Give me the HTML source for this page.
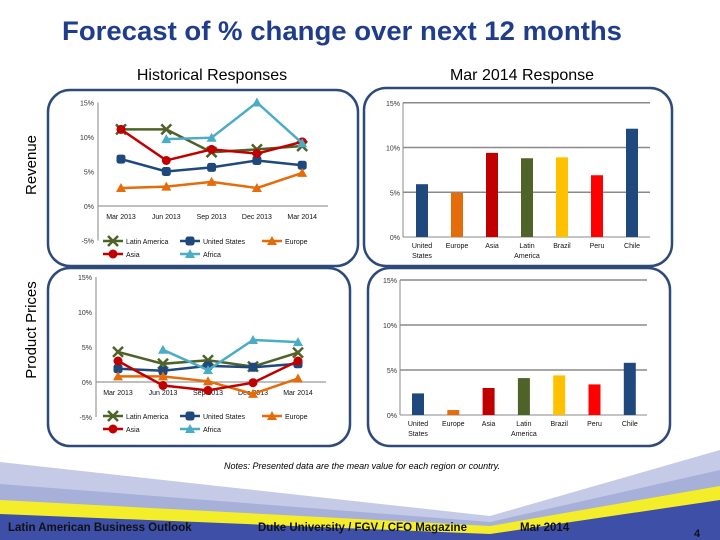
<!DOCTYPE html>
<html><head><meta charset="utf-8">
<style>
body{margin:0;background:#fff;}
svg{display:block;font-family:"Liberation Sans",sans-serif;}
</style></head>
<body>
<svg id="root" width="720" height="540" viewBox="0 0 720 540" xmlns="http://www.w3.org/2000/svg">
  <g>
    <polygon points="0,462 490,516 720,450 720,540 0,540" fill="#C5CAE6"/>
    <polygon points="0,484 490,522 720,470 720,540 0,540" fill="#A7B0D8"/>
    <polygon points="0,500 490,526 720,486 720,540 0,540" fill="#F4EE2A"/>
    <polygon points="0,514 490,534 720,500 720,540 0,540" fill="#3E4FA8"/>
  </g>
  <text x="342" y="40" text-anchor="middle" font-size="27" font-weight="bold" fill="#1F3D8A" textLength="560" lengthAdjust="spacingAndGlyphs">Forecast of % change over next 12 months</text>
  <text x="212" y="80" text-anchor="middle" font-size="16" fill="#000">Historical Responses</text>
  <text x="522" y="80" text-anchor="middle" font-size="16" fill="#000">Mar 2014 Response</text>
  <text transform="translate(36,165) rotate(-90)" text-anchor="middle" font-size="15">Revenue</text>
  <text transform="translate(36,330) rotate(-90)" text-anchor="middle" font-size="15">Product Prices</text>

  <rect x="48" y="90" width="310" height="176" rx="22" fill="none" stroke="#2E4A7A" stroke-width="2.5"/>
  <rect x="48" y="268" width="302" height="178" rx="22" fill="none" stroke="#2E4A7A" stroke-width="2.5"/>
  <rect x="364" y="88" width="308" height="178" rx="22" fill="none" stroke="#2E4A7A" stroke-width="2.5"/>
  <rect x="368" y="268" width="302" height="178" rx="22" fill="none" stroke="#2E4A7A" stroke-width="2.5"/>
  <g id="charts"></g>

  <text x="362" y="469" text-anchor="middle" font-size="9" font-style="italic" fill="#000">Notes: Presented data are the mean value for each region or country.</text>
  <text x="8" y="531" font-size="11.5" font-weight="bold" fill="#111">Latin American Business Outlook</text>
  <text x="258" y="531" font-size="11.5" font-weight="bold" fill="#111">Duke University / FGV / CFO Magazine</text>
  <text x="520" y="531" font-size="11.5" font-weight="bold" fill="#111">Mar 2014</text>
  <text x="694" y="537" font-size="11" font-weight="bold" fill="#111">4</text>
</svg>
<script>
const quarters = ["Mar 2013","Jun 2013","Sep 2013","Dec 2013","Mar 2014"];
const seriesNames = ["Latin America","United States","Europe","Asia","Africa"];
const revLatAm = [11.1,11.1,7.8,8.2,8.7];
const revUS = [6.8,5.0,5.6,6.6,5.9];
const revEurope = [2.6,2.8,3.5,2.6,4.8];
const revAsia = [11.1,6.6,8.2,7.6,9.3];
const revAfrica = [null,9.7,9.9,15.0,9.1];
const priceLatAm = [4.3,2.6,3.1,2.2,4.2];
const priceUS = [1.9,1.6,2.3,2.1,2.6];
const priceEurope = [0.8,0.8,0.1,-1.7,0.5];
const priceAsia = [3.0,-0.5,-1.2,-0.1,3.0];
const priceAfrica = [null,4.6,1.7,6.0,5.7];
const lineTicks = [-5,0,5,10,15];
const barCategories = ["United States","Europe","Asia","Latin America","Brazil","Peru","Chile"];
const revBars = [5.9,4.95,9.4,8.8,8.9,6.9,12.1];
const priceBars = [2.4,0.55,3.0,4.1,4.4,3.4,5.8];
const barTicks = [0,5,10,15];

const NS="http://www.w3.org/2000/svg";
const root=document.getElementById('charts');
function mk(tag,attrs,parent){const e=document.createElementNS(NS,tag);for(const k in attrs)e.setAttribute(k,attrs[k]);(parent||root).appendChild(e);return e;}
const lineColors=["#4F6228","#1F497D","#E46C0A","#C00000","#4BACC6"];
const markers=["x","square","triangle","circle","triangle"];

function marker(g,type,x,y,c){
  let m;
  if(type==="x"){m=mk('path',{d:`M${x-5},${y-5}L${x+5},${y+5}M${x-5},${y+5}L${x+5},${y-5}`,stroke:c,'stroke-width':2.5},g);}
  else if(type==="square"){m=mk('rect',{x:x-4.5,y:y-4.5,width:9,height:9,rx:2.5,fill:c},g);}
  else if(type==="triangle"){m=mk('polygon',{points:`${x},${y-5} ${x+5},${y+4} ${x-5},${y+4}`,fill:c},g);}
  else {m=mk('circle',{cx:x,cy:y,r:4.5,fill:c},g);}
  return m;
}

function lineChart(name,series,o){
  const g=mk('g',{});
  
  
  const ys=v=>o.y0-v*o.pp;
  const xs=i=>o.x0+i*o.dx;
  mk('line',{x1:o.ax,y1:ys(15),x2:o.ax,y2:ys(-5),stroke:'#999','stroke-width':1.2},g);
  mk('line',{x1:o.ax,y1:o.y0,x2:o.ax+230,y2:o.y0,stroke:'#999','stroke-width':1.2},g);
  lineTicks.forEach(t=>{
    const tx=mk('text',{x:o.ax-4,y:ys(t)+3,'text-anchor':'end','font-size':7,fill:'#333'},g);
    tx.textContent=t+'%';
    
    
  });
  quarters.forEach((q,i)=>{
    const tx=mk('text',{x:xs(i),y:o.y0+13,'text-anchor':'middle','font-size':7,fill:'#111'},g);
    tx.textContent=q;
    
    
  });
  series.forEach((vals,s)=>{
    const c=lineColors[s];
    let d='';vals.forEach((v,i)=>{if(v===null)return;d+=(d?'L':'M')+xs(i)+','+ys(v);});
    const p=mk('path',{d:d,fill:'none',stroke:c,'stroke-width':2.5},g);
    
    
    vals.forEach((v,i)=>{if(v===null)return;const m=marker(g,markers[s],xs(i),ys(v),c);
      
      });
  });
  const lx=[103,180,262,103,180], ly=[o.leg,o.leg,o.leg,o.leg+13,o.leg+13];
  seriesNames.forEach((n,s)=>{
    const c=lineColors[s];
    const lg=mk('g',{},g);
    
    
    mk('line',{x1:lx[s],y1:ly[s],x2:lx[s]+20,y2:ly[s],stroke:c,'stroke-width':2.5},lg);
    marker(lg,markers[s],lx[s]+10,ly[s],c);
    const t=mk('text',{x:lx[s]+23,y:ly[s]+3,'font-size':7,fill:'#111'},lg);
    t.textContent=n;
  });
}

function barChart(name,vals,o){
  const g=mk('g',{});
  
  
  const ys=v=>o.y0-v*o.pp;
  barTicks.forEach(t=>{
    mk('line',{x1:o.ax,y1:ys(t),x2:o.ax2,y2:ys(t),stroke:'#8a8a8a','stroke-width':t===0?1:1.5},g);
    const tx=mk('text',{x:o.ax-3,y:ys(t)+3,'text-anchor':'end','font-size':7,fill:'#333'},g);
    tx.textContent=t+'%';
    
    
  });
  mk('line',{x1:o.ax,y1:ys(15),x2:o.ax,y2:o.y0,stroke:'#8a8a8a','stroke-width':1},g);
  const colors=["#1F497D","#E46C0A","#C00000","#4F6228","#FFC000","#FF0000","#1F497D"];
  barCategories.forEach((c,i)=>{
    const cx=o.x0+i*o.dx;
    const r=mk('rect',{x:cx-6,y:ys(vals[i]),width:12,height:vals[i]*o.pp,fill:colors[i]},g);
    
    
    const parts=c.split(' ');
    parts.forEach((p,k)=>{
      const t=mk('text',{x:cx,y:o.y0+11+k*10,'text-anchor':'middle','font-size':7,fill:'#111'},g);
      t.textContent=p;
      
      
    });
  });
}

lineChart('revenue-history-chart',[revLatAm,revUS,revEurope,revAsia,revAfrica],{ax:98,y0:206,pp:6.9,x0:121,dx:45.3,leg:241});
lineChart('prices-history-chart',[priceLatAm,priceUS,priceEurope,priceAsia,priceAfrica],{ax:96,y0:382,pp:7,x0:118,dx:45,leg:416});
barChart('revenue-current-chart',revBars,{ax:403,ax2:650,y0:237,pp:8.95,x0:422,dx:35});
barChart('prices-current-chart',priceBars,{ax:400,ax2:647,y0:415,pp:9,x0:418,dx:35.3});
</script>
</body></html>
